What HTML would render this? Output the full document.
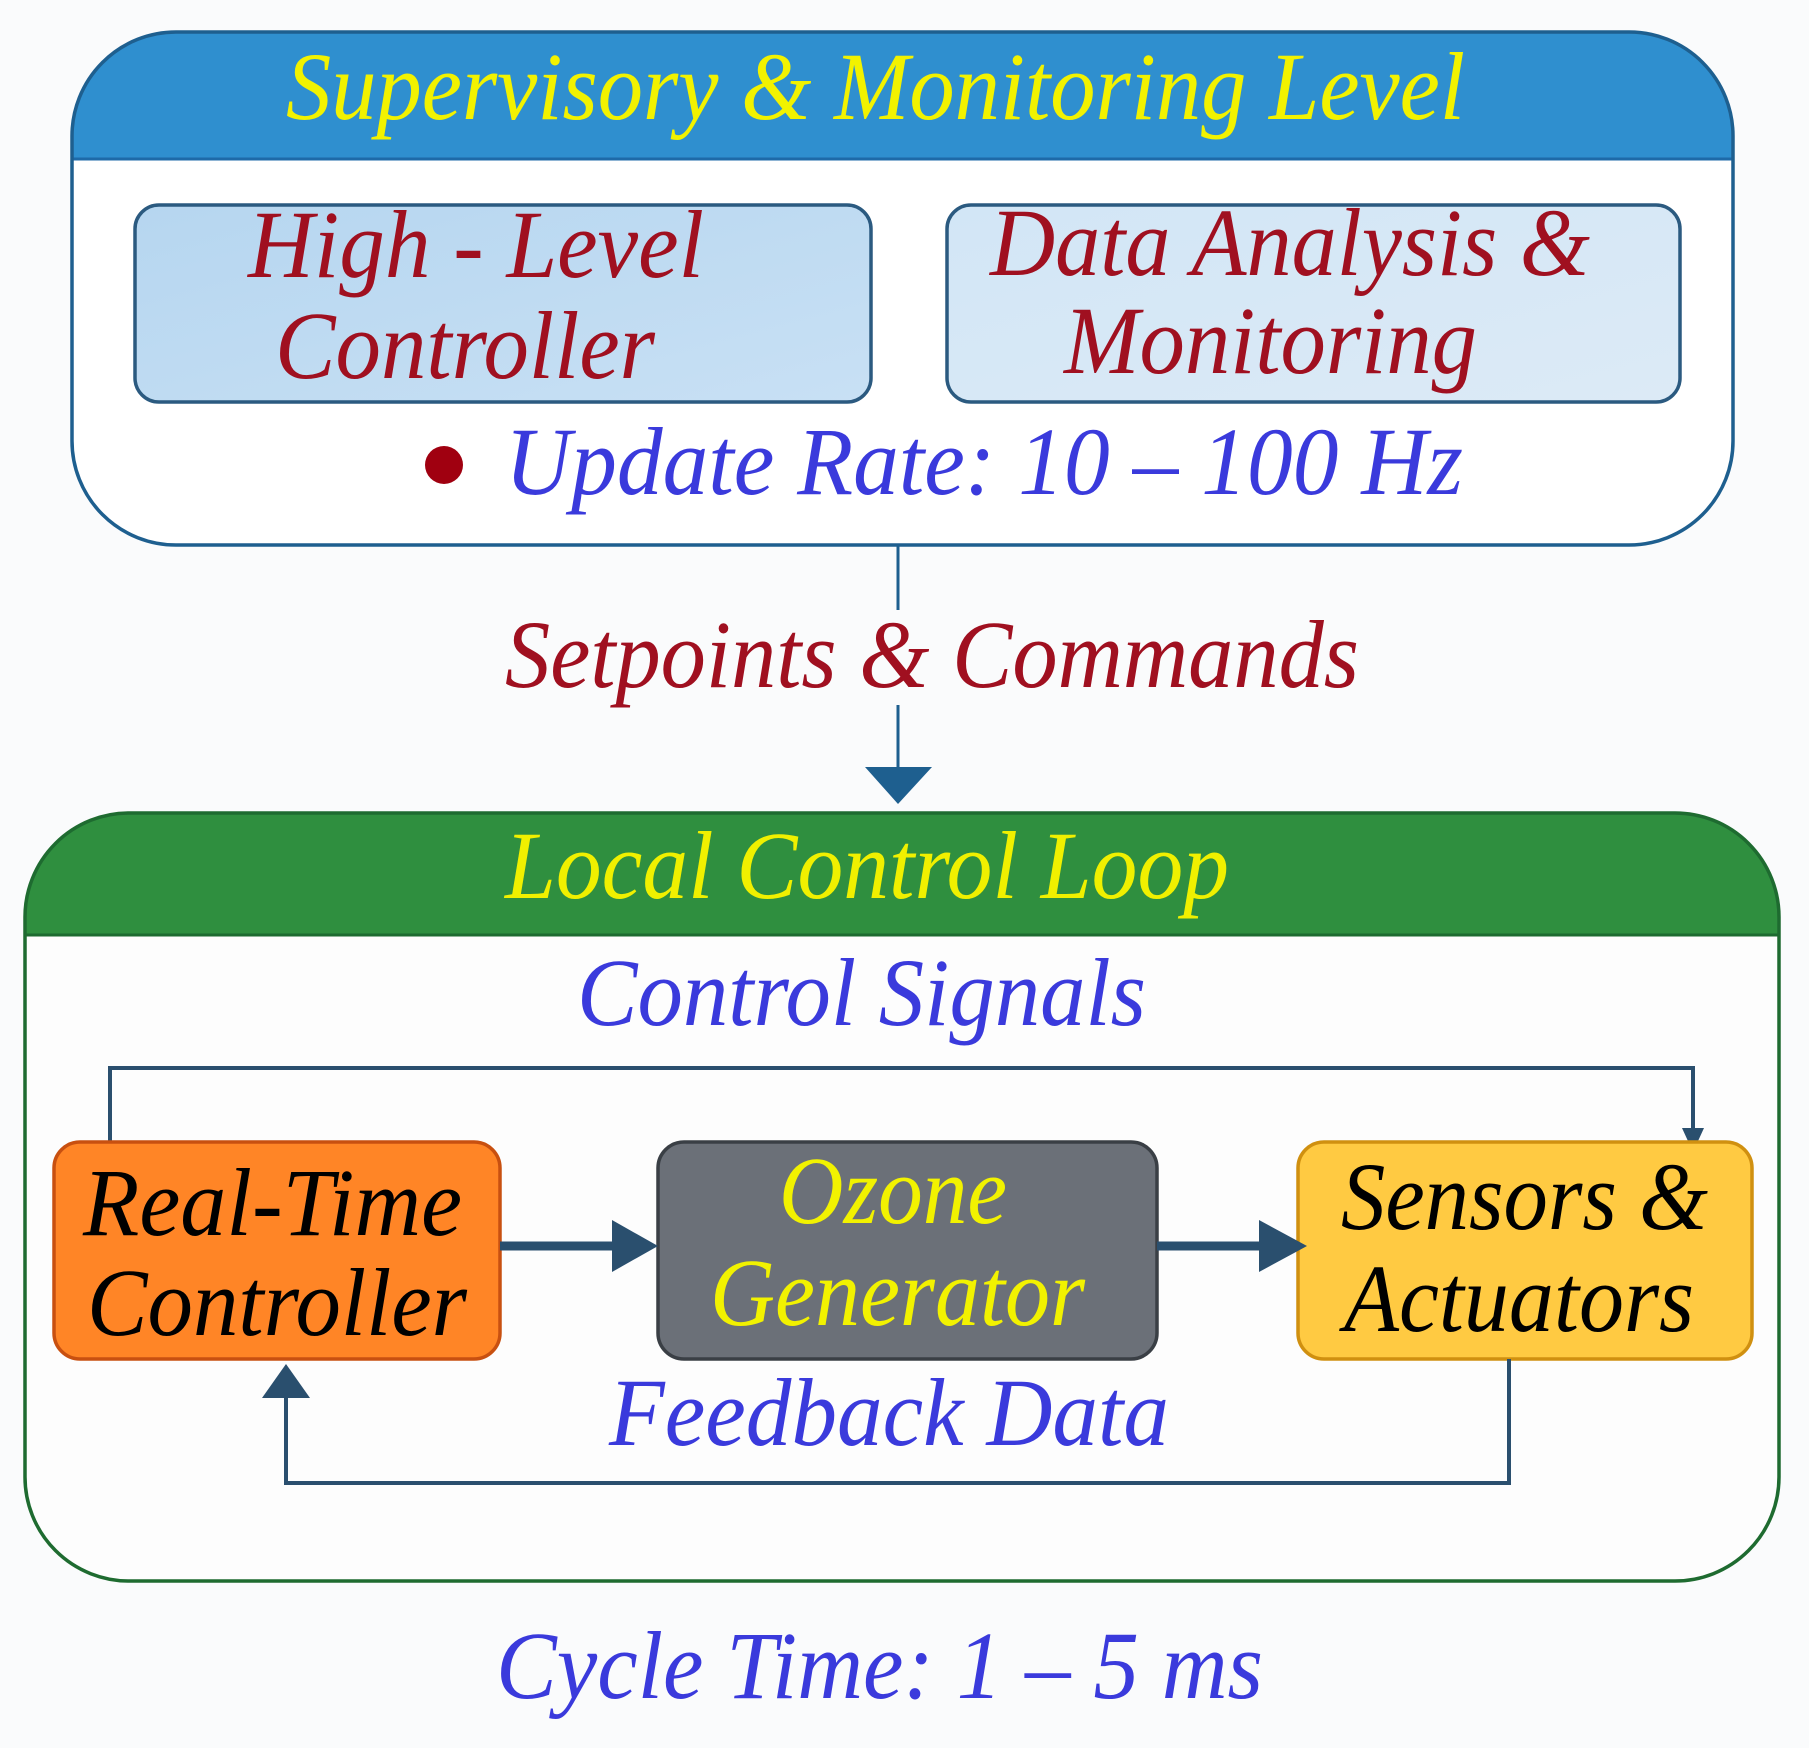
<!DOCTYPE html>
<html><head><meta charset="utf-8"><style>html,body{margin:0;padding:0;background:#fafbfc}svg{display:block}</style></head>
<body>
<svg width="1809" height="1748" viewBox="0 0 1809 1748" xmlns="http://www.w3.org/2000/svg" font-family="Liberation Serif, serif" font-style="italic">
<defs>
<clipPath id="c1"><rect x="72" y="32" width="1661" height="513" rx="104"/></clipPath>
<clipPath id="c2"><rect x="25" y="813" width="1754" height="768" rx="104"/></clipPath>
<linearGradient id="g1" x1="0" y1="0" x2="1" y2="1"><stop offset="0" stop-color="#b6d6f0"/><stop offset="1" stop-color="#c8e0f4"/></linearGradient>
<linearGradient id="g2" x1="0" y1="0" x2="1" y2="1"><stop offset="0" stop-color="#d2e6f6"/><stop offset="1" stop-color="#dceaf6"/></linearGradient>
</defs>
<rect width="1809" height="1748" fill="#fafbfc"/>
<rect x="72" y="32" width="1661" height="513" rx="104" fill="#fff"/>
<rect x="72" y="32" width="1661" height="127" fill="#2f8fcf" clip-path="url(#c1)"/>
<line x1="72" y1="159" x2="1733" y2="159" stroke="#1e6aa8" stroke-width="3"/>
<rect x="72" y="32" width="1661" height="513" rx="104" fill="none" stroke="#1e5f8f" stroke-width="3.5"/>
<text x="286" y="119" font-size="96" fill="#f2f200" textLength="1179" lengthAdjust="spacingAndGlyphs">Supervisory &amp; Monitoring Level</text>
<rect x="135" y="205" width="736" height="197" rx="24" fill="url(#g1)" stroke="#2b5a80" stroke-width="3.5"/>
<rect x="947" y="205" width="733" height="197" rx="24" fill="url(#g2)" stroke="#2b5a80" stroke-width="3.5"/>
<g font-size="96" fill="#a01020">
<text x="248" y="277" textLength="456" lengthAdjust="spacingAndGlyphs">High - Level</text>
<text x="275" y="378" textLength="380" lengthAdjust="spacingAndGlyphs">Controller</text>
<text x="990" y="275" textLength="600" lengthAdjust="spacingAndGlyphs">Data Analysis &amp;</text>
<text x="1064" y="373" textLength="413" lengthAdjust="spacingAndGlyphs">Monitoring</text>
</g>
<circle cx="444" cy="465" r="19" fill="#a00010"/>
<text x="505" y="494" font-size="96" fill="#3a3adc" textLength="958" lengthAdjust="spacingAndGlyphs">Update Rate: 10 – 100 Hz</text>
<line x1="898" y1="545" x2="898" y2="770" stroke="#1e5f8f" stroke-width="3"/>
<polygon points="865,767 932,767 898,804" fill="#1e5f8f"/>
<rect x="495" y="610" width="875" height="95" fill="#fafbfc"/>
<text x="505" y="687" font-size="96" fill="#a01020" textLength="854" lengthAdjust="spacingAndGlyphs">Setpoints &amp; Commands</text>
<rect x="25" y="813" width="1754" height="768" rx="104" fill="#fdfdfd"/>
<rect x="25" y="813" width="1754" height="122" fill="#2f8f3f" clip-path="url(#c2)"/>
<line x1="25" y1="935" x2="1779" y2="935" stroke="#1e6b30" stroke-width="3"/>
<rect x="25" y="813" width="1754" height="768" rx="104" fill="none" stroke="#1e6b30" stroke-width="3.5"/>
<text x="505" y="898" font-size="96" fill="#f0f000" textLength="724" lengthAdjust="spacingAndGlyphs">Local Control Loop</text>
<text x="577" y="1025" font-size="96" fill="#3a3adc" textLength="569" lengthAdjust="spacingAndGlyphs">Control Signals</text>
<polyline points="110,1142 110,1068 1693,1068 1693,1135" fill="none" stroke="#2a4f6e" stroke-width="4"/>
<polygon points="1682,1128 1704,1128 1693,1152" fill="#2a4f6e"/>
<rect x="54" y="1142" width="446" height="217" rx="26" fill="#ff8526" stroke="#c85010" stroke-width="3.5"/>
<rect x="658" y="1142" width="499" height="217" rx="26" fill="#6b7078" stroke="#3a3f45" stroke-width="3.5"/>
<rect x="1298" y="1142" width="454" height="217" rx="26" fill="#ffca42" stroke="#d09010" stroke-width="3.5"/>
<g font-size="96">
<text x="83" y="1235" fill="#000" textLength="379" lengthAdjust="spacingAndGlyphs">Real-Time</text>
<text x="87" y="1335" fill="#000" textLength="380" lengthAdjust="spacingAndGlyphs">Controller</text>
<text x="779" y="1223" fill="#f2f200" textLength="228" lengthAdjust="spacingAndGlyphs">Ozone</text>
<text x="710" y="1325" fill="#f2f200" textLength="375" lengthAdjust="spacingAndGlyphs">Generator</text>
<text x="1341" y="1229" fill="#000" textLength="367" lengthAdjust="spacingAndGlyphs">Sensors &amp;</text>
<text x="1344" y="1331" fill="#000" textLength="350" lengthAdjust="spacingAndGlyphs">Actuators</text>
</g>
<line x1="500" y1="1246" x2="615" y2="1246" stroke="#2a4f6e" stroke-width="9"/>
<polygon points="612,1220 658,1246 612,1272" fill="#2a4f6e"/>
<line x1="1157" y1="1246" x2="1262" y2="1246" stroke="#2a4f6e" stroke-width="9"/>
<polygon points="1259,1220 1307,1246 1259,1272" fill="#2a4f6e"/>
<polyline points="1509,1359 1509,1483 286,1483 286,1392" fill="none" stroke="#2a4f6e" stroke-width="4"/>
<polygon points="262,1398 310,1398 286,1364" fill="#2a4f6e"/>
<text x="609" y="1445" font-size="96" fill="#3a3adc" textLength="560" lengthAdjust="spacingAndGlyphs">Feedback Data</text>
<text x="496" y="1698" font-size="96" fill="#3a3adc" textLength="767" lengthAdjust="spacingAndGlyphs">Cycle Time: 1 – 5 ms</text>
</svg>
</body></html>
